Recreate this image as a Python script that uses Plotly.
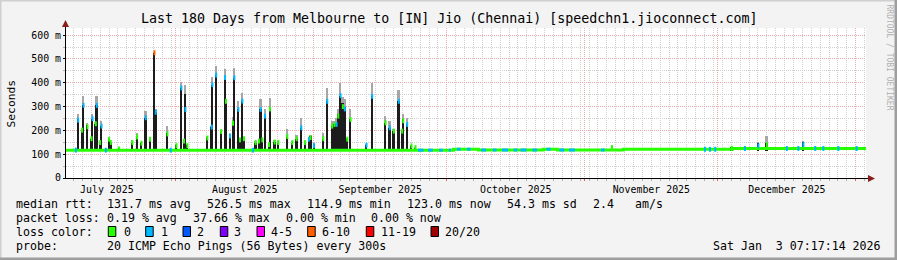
import numpy as np
import pandas as pd
import plotly.graph_objects as go

# ---------------- data ----------------
x_start = "2025-07-07 07:17:14"
x_end = "2026-01-03 07:17:14"

spike_time = [
    "2025-07-10 01:00", "2025-07-10 22:20", "2025-07-11 06:00", "2025-07-12 03:30", "2025-07-13 01:10",
    "2025-07-13 06:30", "2025-07-14 00:15", "2025-07-14 05:45", "2025-07-14 23:30", "2025-07-15 07:10",
    "2025-07-17 00:00", "2025-07-17 09:20", "2025-07-19 06:00", "2025-07-22 06:15", "2025-07-23 07:10",
    "2025-07-24 07:00", "2025-07-25 06:00", "2025-07-26 05:15", "2025-07-27 05:00", "2025-07-27 12:00",
    "2025-07-30 03:10", "2025-08-01 03:35", "2025-08-02 06:40", "2025-08-02 20:40", "2025-08-03 04:15",
    "2025-08-03 15:05", "2025-08-08 02:50", "2025-08-09 02:10", "2025-08-09 05:50", "2025-08-10 02:20",
    "2025-08-11 05:20", "2025-08-12 02:00", "2025-08-12 07:10", "2025-08-13 04:50", "2025-08-13 21:05",
    "2025-08-14 04:35", "2025-08-15 02:10", "2025-08-15 10:50", "2025-08-15 23:45", "2025-08-16 08:25",
    "2025-08-18 23:30", "2025-08-19 17:20", "2025-08-20 02:25", "2025-08-20 11:30", "2025-08-21 01:40",
    "2025-08-21 23:20", "2025-08-22 04:40", "2025-08-23 06:00", "2025-08-24 02:00", "2025-08-26 02:25",
    "2025-08-27 05:30", "2025-08-28 04:40", "2025-08-29 06:00", "2025-08-30 01:30", "2025-08-30 23:00",
    "2025-08-31 08:10", "2025-09-01 02:00", "2025-09-03 04:35", "2025-09-04 02:10", "2025-09-05 05:00",
    "2025-09-05 17:30", "2025-09-06 04:20", "2025-09-06 13:40", "2025-09-07 02:00", "2025-09-07 14:25",
    "2025-09-08 01:10", "2025-09-08 14:10", "2025-09-09 07:55", "2025-09-12 22:20", "2025-09-14 05:00",
    "2025-09-17 04:50", "2025-09-18 03:50", "2025-09-19 01:30", "2025-09-20 04:30", "2025-09-20 22:50",
    "2025-09-21 04:10", "2025-09-22 01:40", "2025-09-23 01:00", "2025-09-23 22:35", "2025-11-07 03:35",
    "2025-12-04 02:50", "2025-12-10 02:25", "2025-12-11 23:45", "2025-12-20 05:15",
]
# top of the dense (dark) smoke, ms
spike_dark = [
    246, 201, 305, 221, 165, 249, 228, 305, 149, 218,
    163, 149, 125, 149, 172, 146, 253, 163, 526, 276,
    190, 138, 378, 155, 353, 138, 170, 214, 392, 432,
    195, 422, 322, 177, 235, 421, 288, 163, 323, 165,
    149, 155, 288, 163, 260, 142, 290, 151, 149, 174,
    149, 165, 211, 149, 163, 176, 142, 165, 322, 218,
    225, 225, 267, 346, 315, 300, 163, 246, 138, 343,
    232, 211, 197, 322, 197, 249, 225, 135, 128, 128,
    130, 145, 149, 150,
]
# top of the faint smoke, ms
spike_smoke = [
    267, 207, 343, 233, 170, 267, 235, 346, 155, 239,
    170, 152, 128, 160, 190, 152, 283, 172, 530, 288,
    218, 142, 405, 160, 392, 142, 176, 220, 426, 470,
    200, 457, 330, 185, 258, 460, 323, 168, 359, 170,
    156, 165, 332, 170, 288, 146, 336, 160, 155, 204,
    155, 180, 253, 155, 170, 180, 146, 190, 378, 240,
    240, 250, 290, 399, 340, 330, 170, 288, 142, 399,
    260, 240, 205, 371, 205, 270, 250, 140, 132, 132,
    132, 150, 175, 155,
]
spike_median = [
    243, 201, 305, 215, 165, 249, 228, 305, 149, 218,
    163, 149, 122, 149, 172, 146, 253, 163, 526, 276,
    185, 136, 378, 155, 288, 136, 168, 214, 392, 432,
    195, 422, 322, 177, 230, 421, 288, 160, 323, 165,
    149, 155, 288, 160, 260, 140, 290, 151, 149, 174,
    149, 165, 211, 149, 163, 170, 136, 165, 322, 218,
    225, 225, 260, 346, 300, 290, 163, 246, 138, 343,
    232, 211, 197, 322, 197, 240, 225, 135, 128, 128,
    125, 135, 140, 140,
]
spike_loss = [
    1, 0, 1, 0, 0, 1, 0, 1, 0, 1,
    0, 0, 0, 0, 0, 0, 1, 0, 5, 1,
    0, 0, 1, 0, 1, 0, 0, 1, 1, 1,
    0, 1, 0, 1, 0, 1, 1, 0, 1, 0,
    0, 0, 1, 0, 1, 0, 0, 0, 0, 0,
    0, 0, 1, 0, 1, 0, 1, 0, 1, 0,
    0, 1, 0, 1, 0, 1, 0, 0, 1, 1,
    0, 1, 0, 1, 0, 0, 1, 0, 0, 0,
    0, 1, 0, 1,
]
smoke_floor = 114.9

# baseline median (step changes)
base_time = ["2025-07-07 07:17", "2025-10-02 11:30", "2025-10-08 02:25", "2025-10-22 17:00",
             "2025-10-25 21:00", "2025-11-09 17:00", "2025-12-04 04:50", "2026-01-03 07:17"]
base_median = [117, 121, 117.5, 121, 117.5, 120.5, 124, 124]

# stretches of the baseline with 1/20 loss
blue_start = ["2025-09-24 12:00", "2025-09-26 18:00", "2025-09-29 06:00", "2025-10-01 10:00",
              "2025-10-03 06:00", "2025-10-05 12:00", "2025-10-08 18:00", "2025-10-11 08:00",
              "2025-10-13 10:00", "2025-10-16 00:00", "2025-10-17 14:00", "2025-10-20 06:00",
              "2025-10-23 10:00", "2025-10-26 08:00", "2025-10-28 12:00", "2025-11-04 16:00"]
blue_end = ["2025-09-25 18:00", "2025-09-27 20:00", "2025-09-30 02:00", "2025-10-01 22:00",
            "2025-10-04 02:00", "2025-10-06 08:00", "2025-10-09 20:00", "2025-10-12 04:00",
            "2025-10-14 18:00", "2025-10-16 20:00", "2025-10-18 22:00", "2025-10-21 06:00",
            "2025-10-24 08:00", "2025-10-27 10:00", "2025-10-29 20:00", "2025-11-05 12:00"]
blue_median = [117, 117, 117, 117, 121, 121, 117.5, 117.5,
               117.5, 117.5, 117.5, 117.5, 121, 117.5, 117.5, 117.5]

# isolated 1/20 loss samples on the baseline
dot_time = ["2025-07-09 12:30", "2025-07-16 06:15", "2025-07-30 21:00", "2025-08-18 09:40",
            "2025-11-28 02:00", "2025-11-29 05:00", "2025-11-30 09:00", "2025-12-07 02:00",
            "2025-12-16 12:00", "2025-12-19 02:00", "2025-12-22 21:00", "2025-12-24 17:00",
            "2025-12-28 02:00", "2026-01-01 05:00"]
dot_median = [117, 117, 117, 117, 120.5, 120.5, 120.5, 124, 124, 124, 124, 124, 124, 124]

loss_labels = ["0", "1", "2", "3", "4-5", "6-10", "11-19", "20/20"]
loss_colors = ["#26ff00", "#00b8ff", "#0059ff", "#7e00ff", "#ff00ff", "#ff5e00", "#ff0000", "#a10000"]

y_tickvals = [0, 100, 200, 300, 400, 500, 600]
y_ticktext = ["0", "100 m", "200 m", "300 m", "400 m", "500 m", "600 m"]

title_text = "Last 180 Days from Melbourne to [IN] Jio (Chennai) [speedchn1.jioconnect.com]"
rtt_label = "median rtt:"
rtt_items = ["131.7 ms avg", "526.5 ms max", "114.9 ms min", "123.0 ms now", "54.3 ms sd", "2.4", "am/s"]
loss_label = "packet loss:"
loss_items = ["0.19 % avg", "37.66 % max", "0.00 % min", "0.00 % now"]
color_label = "loss color:"
probe_label = "probe:"
probe_text = "20 ICMP Echo Pings (56 Bytes) every 300s"
stamp_text = "Sat Jan  3 07:17:14 2026"
watermark = "RRDTOOL / TOBI OETIKER"

# ---------------- layout geometry ----------------
W, H = 897, 260
L, R, T, B = 66, 31, 28, 82
PW, PH = W - L - R, H - T - B
FONT = "DejaVu Sans Mono"


def px(x):
    return (x - L) / PW


def py(y):
    return (H - B - y) / PH


def nb(s):
    return s.replace(" ", "\u00a0")


span_ms = (pd.Timestamp(x_end) - pd.Timestamp(x_start)).total_seconds() * 1000
ms_per_px = span_ms / PW
bar_w = 1.8 * ms_per_px

fig = go.Figure()

# faint smoke
fig.add_trace(go.Bar(x=spike_time, y=np.subtract(spike_smoke, smoke_floor), base=smoke_floor,
                     width=bar_w, marker=dict(color="#a6a6a6", line=dict(width=0))))
# dense smoke
fig.add_trace(go.Bar(x=spike_time, y=np.subtract(spike_dark, smoke_floor), base=smoke_floor,
                     width=bar_w, marker=dict(color="#1c1c1c", line=dict(width=0))))
# baseline median
fig.add_trace(go.Scatter(x=base_time, y=base_median, mode="lines", line=dict(color=loss_colors[0], width=3, shape="hv")))
# loss stretches
bx, by = [], []
for s, e, v in zip(blue_start, blue_end, blue_median):
    bx += [s, e, None]
    by += [v, v, None]
fig.add_trace(go.Scatter(x=bx, y=by, mode="lines", line=dict(color=loss_colors[1], width=3)))
# isolated loss dots
fig.add_trace(go.Scatter(x=dot_time, y=dot_median, mode="markers",
                         marker=dict(symbol="line-ns", size=3.5, line=dict(width=2, color=loss_colors[1]))))
# spike medians
fig.add_trace(go.Scatter(x=spike_time, y=spike_median, mode="markers",
                         marker=dict(symbol="line-ns", size=3.5,
                                     line=dict(width=2, color=[loss_colors[i] for i in spike_loss]))))

grid_minor = "#d0d0d0"
grid_major = "#eba9a9"

fig.update_layout(
    width=W, height=H, margin=dict(l=L, r=R, t=T, b=B, pad=0),
    paper_bgcolor="#f3f3f3", plot_bgcolor="#ffffff",
    showlegend=False, barmode="overlay", bargap=0,
    font=dict(family=FONT, color="#000000", size=10),
    xaxis=dict(
        type="date", range=[x_start, x_end], dtick="M1", tick0="2025-07-01",
        ticklabelmode="period", tickformat="%B %Y",
        showgrid=True, gridcolor=grid_major, griddash="1px,1px", gridwidth=1,
        ticks="outside", ticklen=2, tickcolor="#e06060", tickwidth=1,
        tickfont=dict(family=FONT, size=9.9, color="#000000"),
        showline=True, linecolor="#000000", linewidth=1, zeroline=False,
        minor=dict(dtick=2 * 86400000, tick0="2025-07-07", showgrid=True, gridcolor=grid_minor,
                   griddash="1px,1px", gridwidth=1, ticks="outside", ticklen=2, tickcolor="#b0b0b0"),
        fixedrange=True,
    ),
    yaxis=dict(
        range=[0, 630], tickvals=y_tickvals, ticktext=y_ticktext,
        showgrid=True, gridcolor=grid_major, griddash="1px,1px", gridwidth=1,
        ticks="outside", ticklen=2, tickcolor="#000000",
        tickfont=dict(family=FONT, size=9.9, color="#000000"),
        showline=True, linecolor="#000000", linewidth=1, zeroline=False,
        minor=dict(dtick=50, showgrid=True, gridcolor=grid_minor, griddash="1px,1px", gridwidth=1,
                   ticks="outside", ticklen=2, tickcolor="#b0b0b0"),
        fixedrange=True,
    ),
)

shapes = []
# 3D frame
shapes.append(dict(type="line", xref="paper", yref="paper", x0=px(0), x1=px(W), y0=py(0.75), y1=py(0.75),
                   line=dict(color="#cfcfcf", width=1.5)))
shapes.append(dict(type="line", xref="paper", yref="paper", x0=px(0.75), x1=px(0.75), y0=py(0), y1=py(H),
                   line=dict(color="#cfcfcf", width=1.5)))
shapes.append(dict(type="line", xref="paper", yref="paper", x0=px(0), x1=px(W), y0=py(H - 1.25), y1=py(H - 1.25),
                   line=dict(color="#9e9e9e", width=2.5)))
shapes.append(dict(type="line", xref="paper", yref="paper", x0=px(W - 1.25), x1=px(W - 1.25), y0=py(0), y1=py(H),
                   line=dict(color="#9e9e9e", width=2.5)))
# axis extensions and arrows
shapes.append(dict(type="line", xref="paper", yref="paper", x0=px(L - 0.5), x1=px(L - 0.5), y0=py(T), y1=py(24),
                   line=dict(color="#000000", width=1)))
shapes.append(dict(type="line", xref="paper", yref="paper", x0=px(L + PW), x1=px(L + PW + 4), y0=py(H - B + 0.5),
                   y1=py(H - B + 0.5), line=dict(color="#000000", width=1)))
ax = L - 0.5
shapes.append(dict(type="path", xref="paper", yref="paper",
                   path=f"M {px(ax - 3.5)},{py(27)} L {px(ax + 3.5)},{py(27)} L {px(ax)},{py(20)} Z",
                   fillcolor="#8b1c1c", line=dict(width=0)))
ay = H - B + 0.5
shapes.append(dict(type="path", xref="paper", yref="paper",
                   path=f"M {px(868)},{py(ay - 3.5)} L {px(868)},{py(ay + 3.5)} L {px(875)},{py(ay)} Z",
                   fillcolor="#8b1c1c", line=dict(width=0)))
# loss color legend boxes
box_left = [108.3, 145.7, 183, 220.3, 257, 307.7, 366.3, 431]
box_label_x = [124, 161, 197.7, 234.5, 271, 322.3, 381, 445.5]
for bxl, col in zip(box_left, loss_colors):
    shapes.append(dict(type="rect", xref="paper", yref="paper", x0=px(bxl), x1=px(bxl + 7.5),
                       y0=py(236.5), y1=py(226.5), fillcolor=col, line=dict(color="#000000", width=1)))
fig.update_layout(shapes=shapes)

ann = []


def text(x, y, s, size=11.6, anchor="left", angle=0, color="#000000"):
    ann.append(dict(xref="paper", yref="paper", x=px(x), y=py(y), text=nb(s), showarrow=False,
                    xanchor=anchor, yanchor="middle", textangle=angle, borderpad=0, borderwidth=0,
                    font=dict(family=FONT, size=size, color=color)))


text(448.5, 18.5, title_text, size=13.3, anchor="center")
text(11, 103.5, "Seconds", size=11.3, anchor="center", angle=-90)
text(889, 57.5, watermark, size=8, anchor="center", angle=90, color="#b0b0b0")

row_y = [204.3, 218.3, 232.3, 246.2]
text(15.5, row_y[0], rtt_label)
for xx, s in zip([106.8, 206.8, 306.8, 406.8, 507.2, 592.8, 634.5], rtt_items):
    text(xx, row_y[0], s)
text(15.5, row_y[1], loss_label)
for xx, s in zip([106.8, 192.8, 285.5, 371.2], loss_items):
    text(xx, row_y[1], s)
text(15.5, row_y[2], color_label)
for xx, s in zip(box_label_x, loss_labels):
    text(xx - 0.5, row_y[2], s)
text(15.5, row_y[3], probe_label)
text(106.8, row_y[3], probe_text)
text(881, row_y[3], stamp_text, anchor="right")
fig.update_layout(annotations=ann)

fig.write_html("out.html")
